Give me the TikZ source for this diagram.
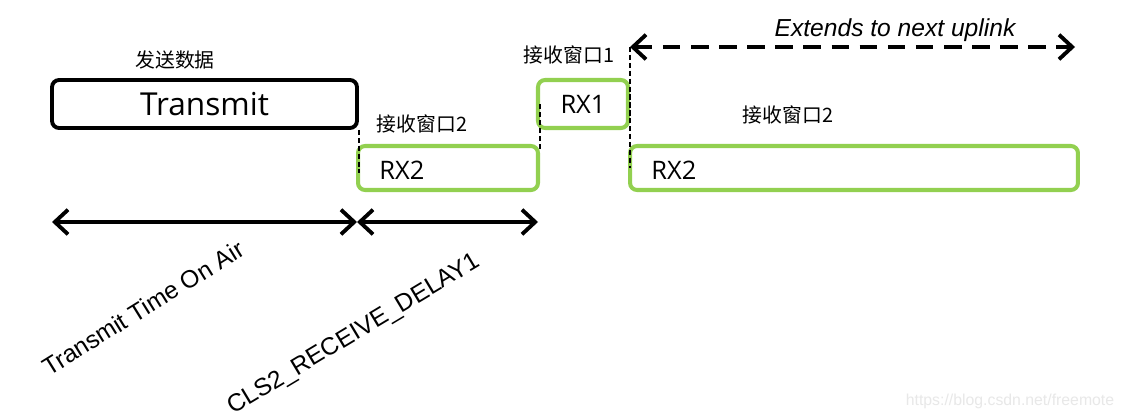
\documentclass[tikz,border=0pt]{standalone}
\usepackage{fontspec}
\setmainfont{Liberation Sans}
\newfontfamily\boxfont{Open Sans}
\newfontfamily\cjk{Noto Sans CJK SC}
\usetikzlibrary{arrows.meta}
\definecolor{rxgreen}{RGB}{146,208,80}
\tikzset{
  txbox/.style={draw=black, line width=2.2pt, rounded corners=4pt, minimum width=6.1cm, minimum height=0.96cm, inner sep=0pt, font=\boxfont\fontsize{18}{20}\selectfont},
  rxbox/.style={draw=rxgreen, line width=2.3pt, rounded corners=4pt, inner sep=0pt, font=\boxfont\fontsize{14.5}{17}\selectfont},
  rxlab/.style={font=\boxfont\fontsize{14.5}{17}\selectfont, anchor=west, inner sep=0pt},
  cjklab/.style={font=\cjk\fontsize{11.3}{13}\selectfont, inner sep=0pt},
  guide/.style={line width=0.9pt, dash pattern=on 3pt off 1.5pt},
  span/.style={line width=2.2pt, {Straight Barb[length=7.5pt,width=14pt]}-{Straight Barb[length=7.5pt,width=14pt]}},
  rotlab/.style={font=\fontsize{14}{16}\selectfont, inner sep=0pt},
}
\begin{document}
\begin{tikzpicture}[x=0.02cm, y=-0.02cm]
\fill[white] (0,0) rectangle (1124,419);
\useasboundingbox (0,0) rectangle (1124,419);

% boxes
\node[txbox] (tx) at (204.5,104) {Transmit};
\node[rxbox, minimum width=3.6cm, minimum height=0.88cm] (rxa) at (448,168) {};
\node[rxlab] (rxat) at (379,170) {RX2};
\node[rxbox, minimum width=1.8cm, minimum height=0.96cm] (rxb) at (583,104) {RX1};
\node[rxbox, minimum width=8.96cm, minimum height=0.88cm] (rxc) at (854,168) {};
\node[rxlab] (rxct) at (651,170) {RX2};

% captions
\node[cjklab] (c0) at (175,60) {发送数据};
\node[cjklab] (c1) at (422,124) {接收窗口2};
\node[cjklab] (c2) at (569,55) {接收窗口1};
\node[cjklab] (c3) at (788,115) {接收窗口2};
\node[font=\itshape\fontsize{14}{16}\selectfont, inner sep=0pt] (ext) at (895,30) {Extends to next uplink};

% dashed guides
\draw[guide] (tx.south east) -- ([yshift=-0.1cm]tx.south east |- rxa.west);
\draw[guide] ([yshift=-0.1cm]rxa.north east) -- (rxa.north east |- rxb.west);
\coordinate (up) at (630,47);
\coordinate (ue) at (1075,47);
\draw[guide] (up) -- (up |- rxc.west);
\draw[span, dash pattern=on 10pt off 6pt] (up) -- (ue);

% time spans
\coordinate (a0) at (52,222);
\coordinate (a1) at (357,222);
\coordinate (a2) at (538,222);
\draw[span] (a0) -- (a1);
\draw[span] (a1) -- (a2);

\node[rotlab, rotate=31.8] (l1) at (143,308) {Transmit Time On Air};
\node[rotlab, rotate=31] (l2) at (354,335) {CLS2\_RECEIVE\_DELAY1};

\node[font=\fontsize{9}{11}\selectfont, text=black!9, inner sep=0pt] (wm) at (1010,401) {https://blog.csdn.net/freemote};
\end{tikzpicture}
\end{document}
